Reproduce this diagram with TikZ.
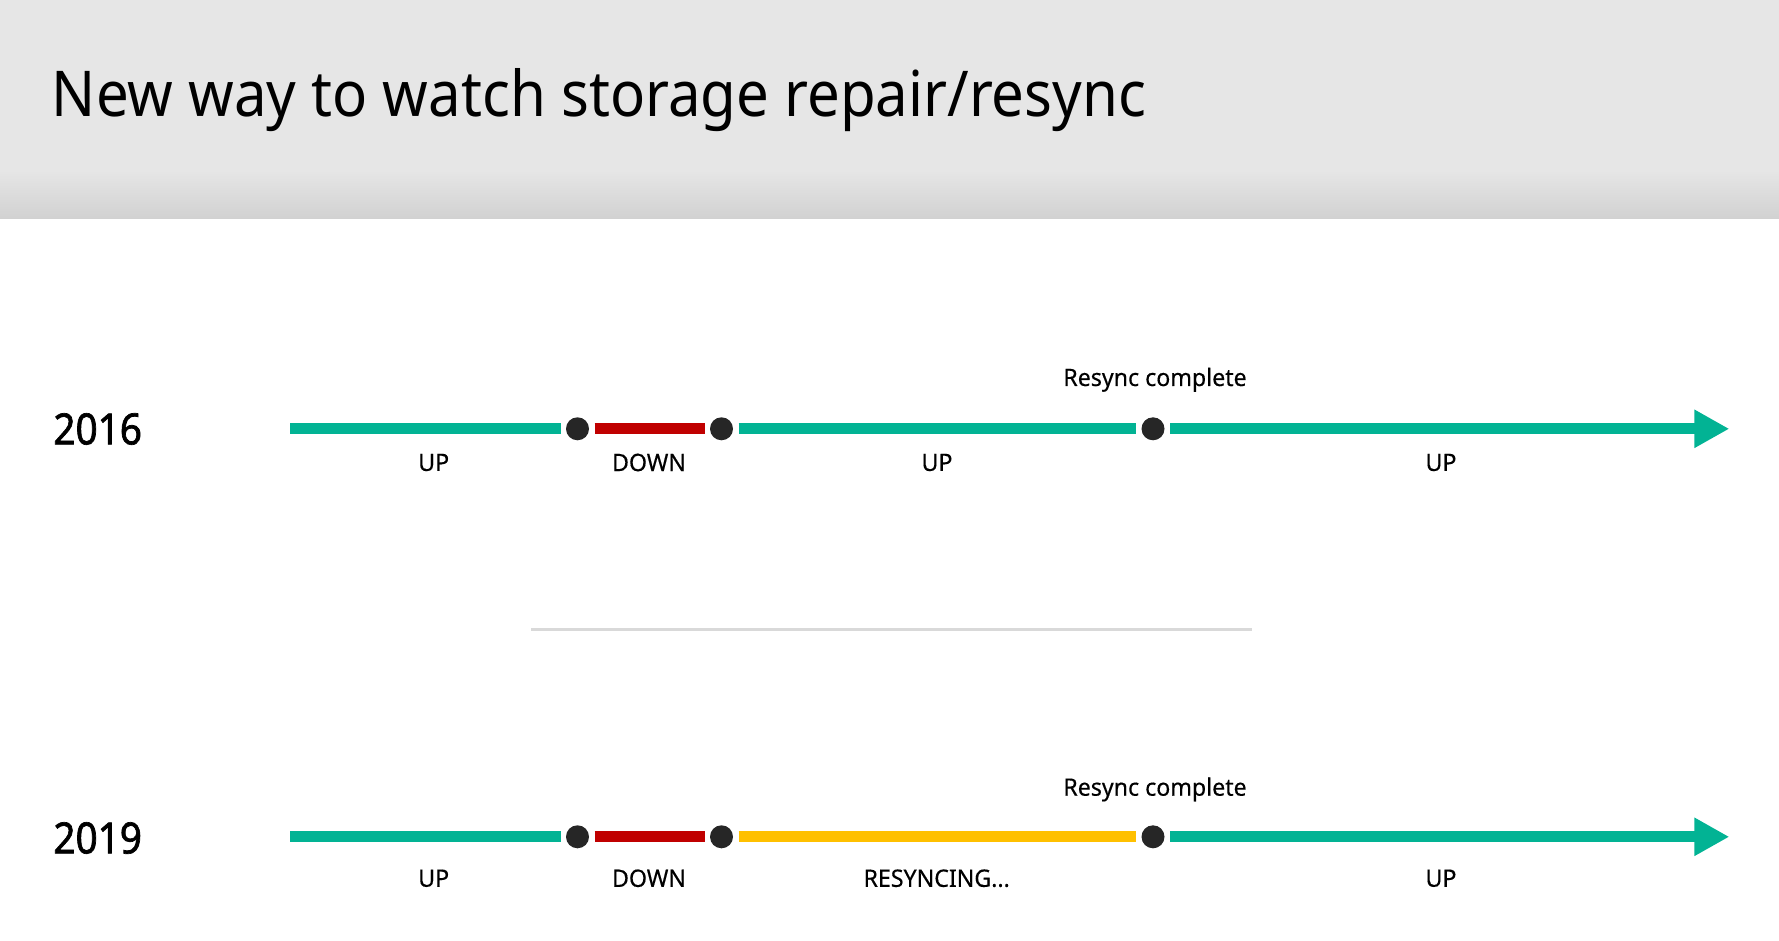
\documentclass[tikz,border=0pt]{standalone}
\usepackage{fontspec}
\setmainfont{Noto Sans}
\newfontfamily\titlefont[FakeStretch=0.92]{Noto Sans}
\newfontfamily\yearfont[FakeStretch=0.9,FakeBold=1.6]{Noto Sans}
\newfontfamily\statefont[FakeStretch=0.965,FakeBold=0.4]{Noto Sans}
\usetikzlibrary{arrows.meta}

\definecolor{upteal}{HTML}{02B394}
\definecolor{downred}{HTML}{C00000}
\definecolor{syncgold}{HTML}{FFC000}
\definecolor{dotgray}{HTML}{262626}
\definecolor{headgray}{HTML}{E6E6E6}
\definecolor{headshade}{HTML}{D1D1D1}
\definecolor{rulegray}{HTML}{D9D9D9}

\begin{document}
\begin{tikzpicture}[x=0.5pt,y=-0.5pt,
  event/.style={circle,fill=dotgray,inner sep=0pt,minimum size=11.5pt,outer sep=2.75pt},
  seg/.style={line width=5.5pt},
  upseg/.style={seg,draw=upteal},
  downseg/.style={seg,draw=downred},
  syncseg/.style={seg,draw=syncgold},
  headtip/.style={-{Triangle[length=17.5pt,width=18pt]}},
  state/.style={font=\statefont\fontsize{12}{14}\selectfont,inner sep=0pt},
  yearlabel/.style={font=\yearfont\fontsize{21.5}{24}\selectfont,inner sep=0pt},
  titletext/.style={font=\titlefont\fontsize{31.6}{36}\selectfont,inner sep=0pt,anchor=base west},
]
\useasboundingbox (0,0) rectangle (1779,941);

% header band
\fill[headgray] (0,0) rectangle (1779,170);
\shade[top color=headgray,bottom color=headshade] (0,170) rectangle (1779,219);
\node[titletext] (title) at (51.5,117) {New way to watch storage repair/resync};

% 2016 timeline
\node[yearlabel] (y16) at (97.7,429) {2016};
\coordinate (s16) at (290,428.8);
\node[event] (a16) at (577.5,428.8) {};
\node[event] (b16) at (721.5,428.8) {};
\node[event] (c16) at (1153,428.8) {};
\coordinate (e16) at (1729.3,428.8);
\draw[upseg] (s16) -- (a16);
\draw[downseg] (a16) -- (b16);
\draw[upseg] (b16) -- (c16);
\draw[upseg,headtip] (c16) -- (e16);
\node[state] (l16a) at (433.7,462.5) {UP};
\node[state] (l16b) at (649,462.5) {DOWN};
\node[state] (l16c) at (937,462.5) {UP};
\node[state] (l16d) at (1441,462.5) {UP};
\node[state,anchor=base] (r16) at (1155,386) {Resync complete};

% divider
\draw[rulegray,line width=1.5pt] (531,629.7) -- (1251.5,629.7);

% 2019 timeline
\node[yearlabel] (y19) at (97.7,838) {2019};
\coordinate (s19) at (290,836.8);
\node[event] (a19) at (577.5,836.8) {};
\node[event] (b19) at (721.5,836.8) {};
\node[event] (c19) at (1153,836.8) {};
\coordinate (e19) at (1729.3,836.8);
\draw[upseg] (s19) -- (a19);
\draw[downseg] (a19) -- (b19);
\draw[syncseg] (b19) -- (c19);
\draw[upseg,headtip] (c19) -- (e19);
\node[state] (l19a) at (433.7,878.3) {UP};
\node[state] (l19b) at (649,878.3) {DOWN};
\node[state] (l19c) at (936.7,878.3) {RESYNCING...};
\node[state] (l19d) at (1441,878.3) {UP};
\node[state,anchor=base] (r19) at (1155,795.7) {Resync complete};
\end{tikzpicture}
\end{document}
